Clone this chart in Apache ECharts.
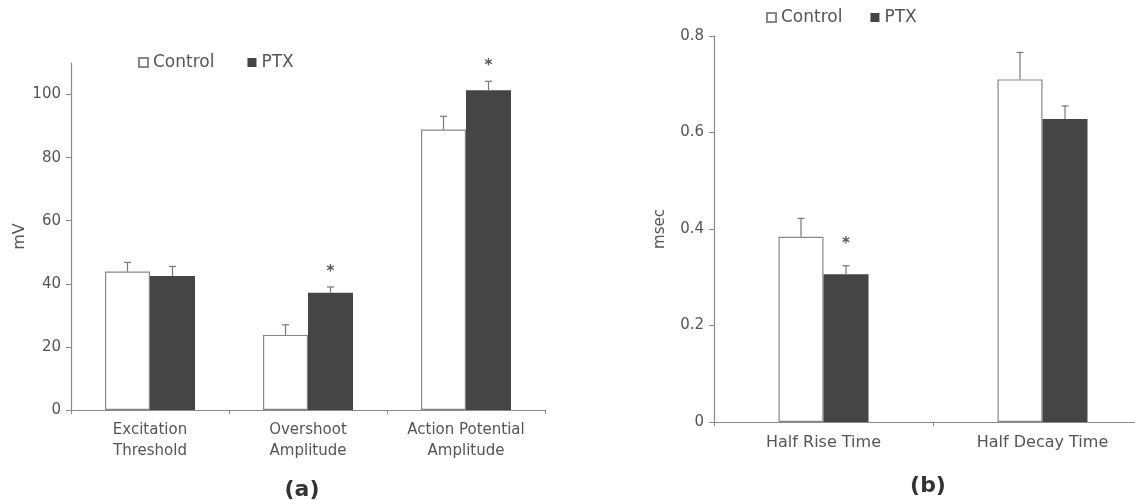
<!DOCTYPE html>
<html>
<head>
<meta charset="utf-8">
<script src="https://cdn.jsdelivr.net/npm/echarts@6/dist/echarts.min.js"></script>
<style>html,body{margin:0;padding:0;background:#fff;}#c{width:1135px;height:500px;}</style>
</head>
<body>
<div id="c"></div>
<script>
// Panel (a)
var catsA = ['Excitation\nThreshold', 'Overshoot\nAmplitude', 'Action Potential\nAmplitude'];
var controlA = [43.9, 23.8, 88.9];
var controlErrA = [2.9, 3.2, 4.2];
var ptxA = [42.5, 37.2, 101.4];
var ptxErrA = [3.0, 1.8, 2.8];
var sigA = [false, true, true];
var ticksA = [0, 20, 40, 60, 80, 100];

// Panel (b)
var catsB = ['Half Rise Time', 'Half Decay Time'];
var controlB = [0.384, 0.710];
var controlErrB = [0.038, 0.056];
var ptxB = [0.306, 0.628];
var ptxErrB = [0.018, 0.027];
var sigB = [true, false];
var ticksB = [0, 0.2, 0.4, 0.6, 0.8];

var FONT = 'DejaVu Sans';
var AXC = '#8a8a8a';
var TXT = '#555';
var DARK = '#454545';
var BW = 45;

function errSeries(name, xi, yi, means, errs, sig, offset, starGap) {
  var data = means.map(function (m, i) { return [i, m, m + errs[i], sig[i] ? 1 : 0]; });
  return {
    name: name, type: 'custom', xAxisIndex: xi, yAxisIndex: yi, data: data, z: 5,
    silent: true,
    renderItem: function (params, api) {
      var p0 = api.coord([api.value(0), api.value(1)]);
      var p1 = api.coord([api.value(0), api.value(2)]);
      var x = p0[0] + offset;
      var children = [
        { type: 'line', shape: { x1: x, y1: p0[1], x2: x, y2: p1[1] }, style: { stroke: '#777', lineWidth: 1.2 } },
        { type: 'line', shape: { x1: x - 3.5, y1: p1[1], x2: x + 3.5, y2: p1[1] }, style: { stroke: '#777', lineWidth: 1.2 } }
      ];
      if (api.value(3)) {
        children.push({ type: 'text', style: { x: x, y: p1[1] - starGap, text: '*', fill: '#555', font: 'bold 15px ' + FONT, align: 'center', verticalAlign: 'middle' } });
      }
      return { type: 'group', children: children };
    }
  };
}

var chart = echarts.init(document.getElementById('c'));
chart.setOption({
  backgroundColor: '#fff',
  animation: false,
  textStyle: { fontFamily: FONT },
  title: [
    { text: '(a)', left: 297, top: 474, textAlign: 'center', textStyle: { fontSize: 22, fontWeight: 'bold', color: '#333', fontFamily: FONT } },
    { text: '(b)', left: 923, top: 470, textAlign: 'center', textStyle: { fontSize: 22, fontWeight: 'bold', color: '#333', fontFamily: FONT } }
  ],
  legend: [
    { data: ['Control', 'PTX'], left: 138, top: 54, padding: 0, itemWidth: 9, itemHeight: 9, itemGap: 33, icon: 'rect',
      textStyle: { fontSize: 17, color: TXT, fontFamily: FONT } },
    { data: ['Control', 'PTX'], left: 766, top: 9, padding: 0, itemWidth: 9, itemHeight: 9, itemGap: 28, icon: 'rect',
      textStyle: { fontSize: 17, color: TXT, fontFamily: FONT } }
  ],
  grid: [
    { left: 71, top: 63, width: 474, height: 347, outerBoundsMode: 'none' },
    { left: 714, top: 36, width: 438, height: 386, outerBoundsMode: 'none' }
  ],
  xAxis: [
    { type: 'category', gridIndex: 0, data: catsA,
      axisLine: { lineStyle: { color: AXC, width: 1.2 } },
      axisTick: { show: true, length: 4, lineStyle: { color: AXC } },
      axisLabel: { color: TXT, fontSize: 15, lineHeight: 21, margin: 10, interval: 0, fontFamily: FONT } },
    { type: 'category', gridIndex: 1, data: catsB,
      axisLine: { lineStyle: { color: AXC, width: 1.2 } },
      axisTick: { show: true, length: 4, lineStyle: { color: AXC } },
      axisLabel: { color: TXT, fontSize: 16, margin: 13, interval: 0, fontFamily: FONT } }
  ],
  yAxis: [
    { type: 'value', gridIndex: 0, min: 0, max: 110, interval: 10,
      name: 'mV', nameLocation: 'middle', nameGap: 43, nameRotate: 90,
      nameTextStyle: { color: TXT, fontSize: 16, fontFamily: FONT },
      axisLine: { show: true, lineStyle: { color: AXC, width: 1.2 } },
      axisTick: { show: true, length: 5, customValues: ticksA, lineStyle: { color: AXC } },
      axisLabel: { color: TXT, fontSize: 15, margin: 10, customValues: ticksA, fontFamily: FONT },
      splitLine: { show: false } },
    { type: 'value', gridIndex: 1, min: 0, max: 0.8, interval: 0.2,
      name: 'msec', nameLocation: 'middle', nameGap: 46, nameRotate: 90,
      nameTextStyle: { color: TXT, fontSize: 15, fontFamily: FONT },
      axisLine: { show: true, lineStyle: { color: AXC, width: 1.2 } },
      axisTick: { show: true, length: 5, customValues: ticksB, lineStyle: { color: AXC } },
      axisLabel: { color: TXT, fontSize: 15, margin: 10, customValues: ticksB, fontFamily: FONT,
        formatter: function (v) { return String(+v.toFixed(1)); } },
      splitLine: { show: false } }
  ],
  series: [
    { name: 'Control', type: 'bar', xAxisIndex: 0, yAxisIndex: 0, data: controlA, barWidth: BW, barGap: '0%',
      itemStyle: { color: '#fff', borderColor: '#888', borderWidth: 1.2 } },
    { name: 'PTX', type: 'bar', xAxisIndex: 0, yAxisIndex: 0, data: ptxA, barWidth: BW, barGap: '0%',
      itemStyle: { color: DARK } },
    { name: 'Control', type: 'bar', xAxisIndex: 1, yAxisIndex: 1, data: controlB, barWidth: BW, barGap: '0%',
      itemStyle: { color: '#fff', borderColor: '#888', borderWidth: 1.2 } },
    { name: 'PTX', type: 'bar', xAxisIndex: 1, yAxisIndex: 1, data: ptxB, barWidth: BW, barGap: '0%',
      itemStyle: { color: DARK } },
    errSeries('errCA', 0, 0, controlA, controlErrA, [false, false, false], -BW / 2, 0),
    errSeries('errPA', 0, 0, ptxA, ptxErrA, sigA, BW / 2, 15),
    errSeries('errCB', 1, 1, controlB, controlErrB, [false, false], -BW / 2, 0),
    errSeries('errPB', 1, 1, ptxB, ptxErrB, sigB, BW / 2, 22)
  ]
});
</script>
</body>
</html>
